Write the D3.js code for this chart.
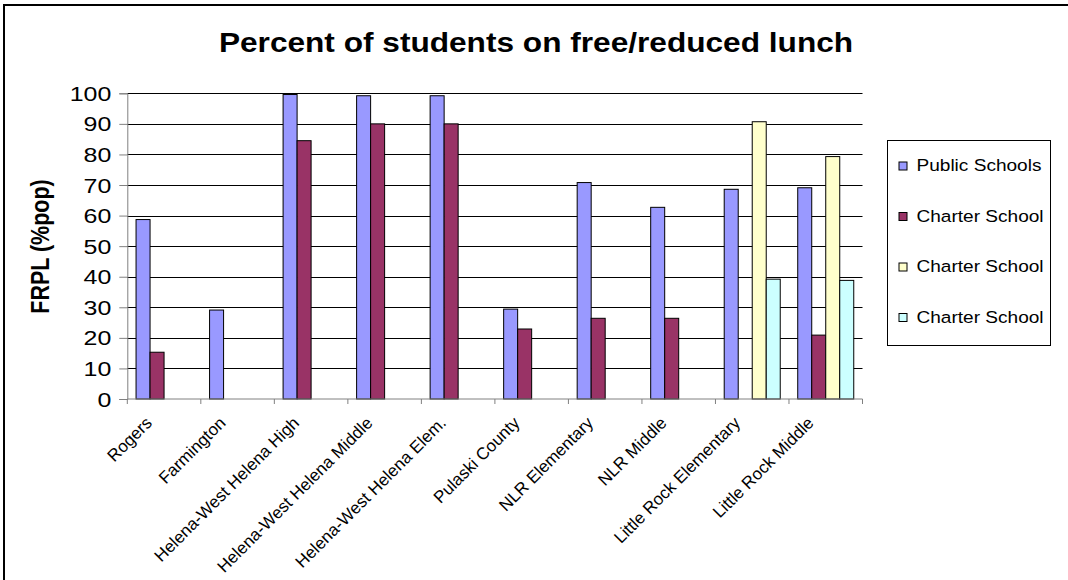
<!DOCTYPE html>
<html>
<head>
<meta charset="utf-8">
<script src="https://cdn.jsdelivr.net/npm/d3@7"></script>
<style>
  body { margin: 0; background: #fff; }
  svg { display: block; font-family: "Liberation Sans", Arial, sans-serif; }
</style>
</head>
<body>
<svg id="chart" width="1068" height="580"></svg>
<script>
var categories = ["Rogers", "Farmington", "Helena-West Helena High", "Helena-West Helena Middle",
  "Helena-West Helena Elem.", "Pulaski County", "NLR Elementary", "NLR Middle",
  "Little Rock Elementary", "Little Rock Middle"];
var publicSchools = [58.7, 29.1, 99.6, 99.2, 99.2, 29.4, 70.8, 62.7, 68.6, 69.1];
var charterA = [15.3, null, 84.5, 90, 90, 22.9, 26.4, 26.4, null, 20.9];
var charterB = [null, null, null, null, null, null, null, null, 90.7, 79.3];
var charterC = [null, null, null, null, null, null, null, null, 39.2, 38.8];
var seriesNames = ["Public Schools", "Charter School", "Charter School", "Charter School"];
var yTicks = [0, 10, 20, 30, 40, 50, 60, 70, 80, 90, 100];

var colors = ["#9999ff", "#993366", "#ffffcc", "#ccffff"];
var allSeries = [publicSchools, charterA, charterB, charterC];

var svg = d3.select("#chart");
var plotLeft = 127.3, plotRight = 862.5, plotTop = 93.3, plotBottom = 399;

// outer frame
svg.append("rect")
  .attr("x", 4).attr("y", 5).attr("width", 1100).attr("height", 620)
  .attr("fill", "#fff").attr("stroke", "#000").attr("stroke-width", 2);

var x = d3.scaleBand().domain(categories).range([plotLeft, plotRight]);
var step = x.bandwidth();
var xs = d3.scaleBand().domain([0, 1, 2, 3]).range([step * 0.119, step * 0.881]);
var y = d3.scaleLinear().domain([0, 100]).range([plotBottom, plotTop]);

// gridlines
svg.append("g").selectAll("line")
  .data(yTicks.slice(1)).enter()
  .append("line")
  .attr("x1", plotLeft).attr("x2", plotRight)
  .attr("y1", function(d){ return Math.round(y(d)) + 0.5; })
  .attr("y2", function(d){ return Math.round(y(d)) + 0.5; })
  .attr("stroke", "#000").attr("stroke-width", 1);

// bars
var rows = [];
categories.forEach(function(c, i){
  allSeries.forEach(function(s, k){
    if (s[i] != null) rows.push({cat: c, k: k, v: s[i]});
  });
});
svg.append("g").selectAll("rect")
  .data(rows).enter()
  .append("rect")
  .attr("x", function(d){ return x(d.cat) + xs(d.k); })
  .attr("y", function(d){ return y(d.v); })
  .attr("width", xs.bandwidth())
  .attr("height", function(d){ return plotBottom - y(d.v); })
  .attr("fill", function(d){ return colors[d.k]; })
  .attr("stroke", "#000").attr("stroke-width", 1);

// y axis
var yAxis = svg.append("g")
  .attr("transform", "translate(" + plotLeft + ",0)")
  .call(d3.axisLeft(y).tickValues(yTicks).tickSize(8).tickPadding(0).tickFormat(d3.format("d")));
yAxis.select(".domain").attr("stroke", "#808080");
yAxis.selectAll(".tick line").attr("stroke", "#808080");
yAxis.selectAll(".tick text")
  .attr("x", null).attr("dy", "0.36em")
  .attr("transform", "translate(-16,0) scale(1.28,1)")
  .attr("text-anchor", "end")
  .attr("font-size", "19.5px").attr("fill", "#000")
  .attr("font-family", "'Liberation Sans', Arial, sans-serif");

// x axis
var xAxis = svg.append("g")
  .attr("transform", "translate(0," + plotBottom + ")");
xAxis.append("line")
  .attr("x1", plotLeft).attr("x2", plotRight).attr("y1", 0).attr("y2", 0)
  .attr("stroke", "#808080");
xAxis.selectAll(".tk")
  .data(categories.concat(["end"])).enter()
  .append("line")
  .attr("x1", function(d){ return d == "end" ? plotRight : x(d); })
  .attr("x2", function(d){ return d == "end" ? plotRight : x(d); })
  .attr("y1", 0).attr("y2", 5)
  .attr("stroke", "#808080");
xAxis.selectAll(".lbl")
  .data(categories).enter()
  .append("text")
  .attr("transform", function(d){
    return "translate(" + (x(d) + step / 2 - 11) + ",25) rotate(-45)";
  })
  .attr("text-anchor", "end")
  .attr("font-size", "17px")
  .text(function(d){ return d; });

// title
svg.append("text")
  .attr("transform", "translate(536,52) scale(1.15,1)")
  .attr("text-anchor", "middle")
  .attr("font-size", "27.5px").attr("font-weight", "bold")
  .text("Percent of students on free/reduced lunch");

// y title
svg.append("text")
  .attr("transform", "translate(49,246.5) rotate(-90) scale(1,1.17)")
  .attr("text-anchor", "middle")
  .attr("font-size", "21.5px").attr("font-weight", "bold")
  .text("FRPL (%pop)");

// legend
var legend = svg.append("g");
legend.append("rect")
  .attr("x", 887.5).attr("y", 140.5).attr("width", 163).attr("height", 205)
  .attr("fill", "#fff").attr("stroke", "#000").attr("stroke-width", 1);
var item = legend.selectAll(".item")
  .data(seriesNames).enter()
  .append("g")
  .attr("transform", function(d, i){ return "translate(0," + (171 + i * 50.5) + ")"; });
item.append("rect")
  .attr("x", 899).attr("y", -9).attr("width", 8).attr("height", 8)
  .attr("fill", function(d, i){ return colors[i]; })
  .attr("stroke", "#000").attr("stroke-width", 1);
item.append("text")
  .attr("transform", "translate(916.5,0) scale(1.17,1)")
  .attr("font-size", "16.3px")
  .text(function(d){ return d; });
</script>
</body>
</html>
